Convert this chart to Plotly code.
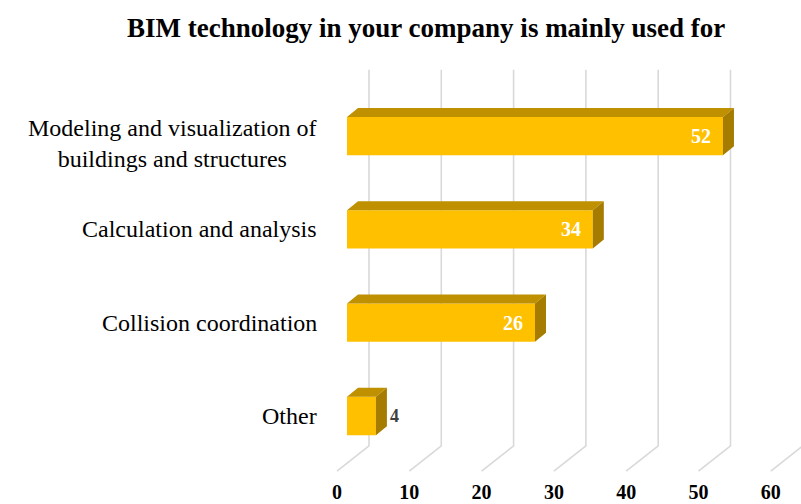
import plotly.graph_objects as go

# data
categories = ["Modeling and visualization of<br>buildings and structures",
              "Calculation and analysis",
              "Collision coordination",
              "Other"]
values = [52, 34, 26, 4]
tick_vals = [0, 10, 20, 30, 40, 50, 60]

FONT = "Times New Roman, Liberation Serif, serif"
FRONT = "#FFC000"
TOP = "#BF9000"
SIDE = "#A67C00"
GRID = "#D9D9D9"

# pixel -> data unit helpers (7.23 px per value, 93.3 px per category)
PXX = 7.23
PXY = 93.3
bar_w = 0.41
dx, dy = 11 / PXX, 9 / PXY          # depth of the 3d bars
wall_dx, wall_top, wall_bot = 22 / PXX, 3.71, -0.32
floor_dx, floor_y = -10 / PXX, -0.59

ypos = list(range(len(categories) - 1, -1, -1))  # top to bottom

fig = go.Figure()

# front faces
fig.add_trace(go.Bar(
    x=values, y=ypos, orientation="h", width=bar_w,
    marker=dict(color=FRONT, line=dict(width=0)),
    hoverinfo="skip", showlegend=False,
))

# top + side faces for the 3d look
top_x, top_y, side_x, side_y = [], [], [], []
for v, y in zip(values, ypos):
    t, b = y + bar_w / 2, y - bar_w / 2
    top_x += [0, v, v + dx, dx, 0, None]
    top_y += [t, t, t + dy, t + dy, t, None]
    side_x += [v, v + dx, v + dx, v, v, None]
    side_y += [b, b + dy, t + dy, t, b, None]

fig.add_trace(go.Scatter(x=top_x, y=top_y, fill="toself", fillcolor=TOP,
                         mode="lines", line=dict(width=0), hoverinfo="skip",
                         showlegend=False))
fig.add_trace(go.Scatter(x=side_x, y=side_y, fill="toself", fillcolor=SIDE,
                         mode="lines", line=dict(width=0), hoverinfo="skip",
                         showlegend=False))

# slanted gridlines (back wall + floor)
for v in tick_vals:
    fig.add_shape(
        type="path", layer="below", xref="x", yref="y",
        path=f"M {v + wall_dx} {wall_top} L {v + wall_dx} {wall_bot} L {v + floor_dx} {floor_y}",
        line=dict(color=GRID, width=1.6),
    )

# category labels (annotations so the 2-line one can sit a bit lower)
for c, y in zip(categories, ypos):
    fig.add_annotation(x=0, xref="paper", y=y, yref="y", text=c, showarrow=False,
                       xanchor="right", xshift=-6, align="center",
                       yshift=-7 if "<br>" in c else 0,
                       font=dict(family=FONT, size=24, color="black"))

# data labels
for v, y in zip(values, ypos):
    if v > 10:
        fig.add_annotation(x=v, y=y, text=f"<b>{v}</b>", showarrow=False,
                           xanchor="right", xshift=-10,
                           font=dict(family=FONT, size=20, color="white"))
    else:
        fig.add_annotation(x=v + dx, y=y, text=f"<b>{v}</b>", showarrow=False,
                           xanchor="left", xshift=1,
                           font=dict(family=FONT, size=18, color="#404040"))

fig.update_layout(
    width=801, height=504,
    paper_bgcolor="white", plot_bgcolor="white",
    margin=dict(l=325, r=0, t=60, b=28),
    title=dict(text="<b>BIM technology in your company is mainly used for</b>",
               x=0.532, xanchor="center", y=0.946, yanchor="middle",
               font=dict(family=FONT, size=27, color="black")),
    xaxis=dict(range=[-22 / PXX, -22 / PXX + 476 / PXX], automargin=False,
               tickvals=tick_vals, ticktext=[f"<b>{t}</b>" for t in tick_vals],
               showgrid=False, zeroline=False, showline=False, ticks="",
               ticklabelshift=-10, ticklabelstandoff=2,
               tickfont=dict(family=FONT, size=20, color="black")),
    yaxis=dict(range=[-0.643, 3.815], automargin=False, showticklabels=False,
               showgrid=False, zeroline=False, showline=False, ticks=""),
)

# page body has an 8px default margin, drop it so the figure sits at 0,0
fig.write_html("out.html", config={"displayModeBar": False},
               post_script="document.body.style.margin='0';")
